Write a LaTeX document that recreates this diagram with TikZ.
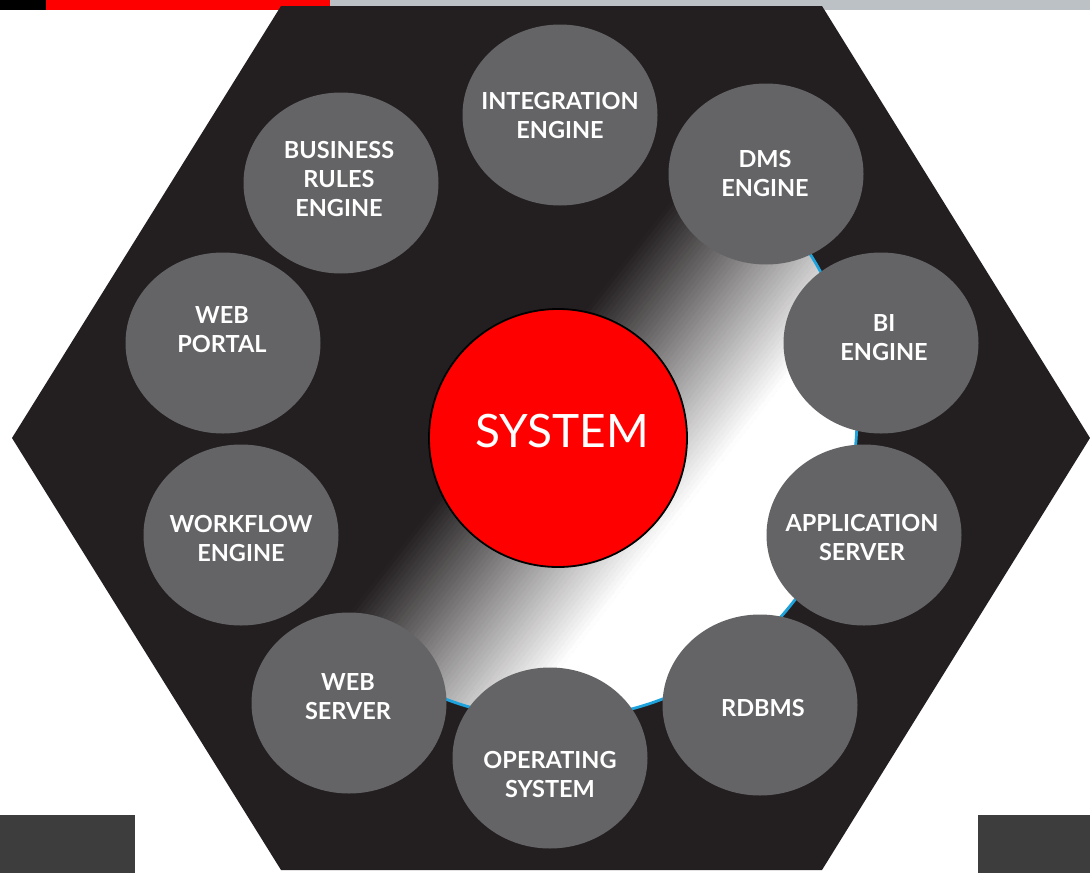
\documentclass[tikz,border=0pt]{standalone}
\usepackage{fontspec}
\setmainfont{Lato}
\usetikzlibrary{shapes.geometric}
\definecolor{hexbg}{HTML}{231F20}
\definecolor{bubgray}{HTML}{646466}
\definecolor{pured}{HTML}{FF0000}
\definecolor{bargray}{HTML}{BCC1C5}
\definecolor{ringblue}{HTML}{1FA3DD}
\definecolor{cornerbox}{HTML}{3D3D3D}
\begin{document}
\begin{tikzpicture}[x=1pt,y=-1pt,
  bubble/.style={ellipse, fill=bubgray, minimum width=195pt, minimum height=181pt, inner sep=0pt},
  lbl/.style={text=white, align=center, font=\fontsize{23.5}{29}\selectfont\bfseries, inner sep=0pt, yshift=-1.5pt},
  core/.style={circle, fill=pured, draw=black, line width=1.8pt, minimum size=258pt, inner sep=0pt},
  corelbl/.style={text=white, font=\fontsize{46}{50}\selectfont, inner sep=0pt}]
\useasboundingbox (0,0) rectangle (1090,873);
\fill[white] (0,0) rectangle (1090,873);
% top bar
\fill[black] (0,0) rectangle (46,10);
\fill[pured] (46,0) rectangle (330,10);
\fill[bargray] (330,0) rectangle (1090,10);
% bottom corner boxes
\fill[cornerbox] (0,815) rectangle (135,873);
\fill[cornerbox] (978,815) rectangle (1090,873);
% hexagon
\fill[hexbg] (281,6) -- (822,6) -- (1090,438) -- (822,870) -- (281,870) -- (12,438) -- cycle;
% gradient disc
\begin{scope}
  \clip (554,416) circle (303pt);
  \fill[hexbg] (554,416) circle (303pt);
  \begin{scope}[shift={(554,416)}, rotate=-38]
    \fill[white] (160,-400) rectangle (420,400);
    \foreach \i in {0,...,49}{
      \pgfmathtruncatemacro\p{\i*2+1}
      \fill[white!\p!hexbg] ({-40+4*\i},-400) rectangle ({-40+4*\i+4.5},400);
    }
  \end{scope}
\end{scope}
\begin{scope}
  \clip (554,416) -- (267,826) -- (554,1000) -- (1100,700) -- (1100,416) -- (908,62) -- cycle;
  \draw[ringblue, line width=2.8pt] (554,416) circle (303pt);
\end{scope}
% bubbles
\node[bubble] (int) at (560,115) {};
\node[bubble] (dms) at (766,174) {};
\node[bubble] (bre) at (341,183) {};
\node[bubble] (wp)  at (223,343) {};
\node[bubble] (bi)  at (881,343) {};
\node[bubble] (wf)  at (241,535) {};
\node[bubble] (app) at (864,535) {};
\node[bubble] (ws)  at (349,703) {};
\node[bubble] (rdb) at (760,705) {};
\node[bubble] (os)  at (550,758) {};
% labels
\node[lbl] (int-l) at (560,114) {INTEGRATION\\ENGINE};
\node[lbl] (dms-l) at (765,172) {DMS\\ENGINE};
\node[lbl] (bre-l) at (339,178) {BUSINESS\\RULES\\ENGINE};
\node[lbl] (wp-l)  at (222,328) {WEB\\PORTAL};
\node[lbl] (bi-l)  at (884,336) {BI\\ENGINE};
\node[lbl] (wf-l)  at (241,537) {WORKFLOW\\ENGINE};
\node[lbl] (app-l) at (862,536) {APPLICATION\\SERVER};
\node[lbl] (ws-l)  at (348,695) {WEB\\SERVER};
\node[lbl] (rdb-l) at (763,706) {RDBMS};
\node[lbl] (os-l)  at (550,773) {OPERATING\\SYSTEM};
% core
\node[core] (sys) at (558,438) {};
\node[corelbl] (sys-l) at (562,431) {SYSTEM};
\end{tikzpicture}
\end{document}
